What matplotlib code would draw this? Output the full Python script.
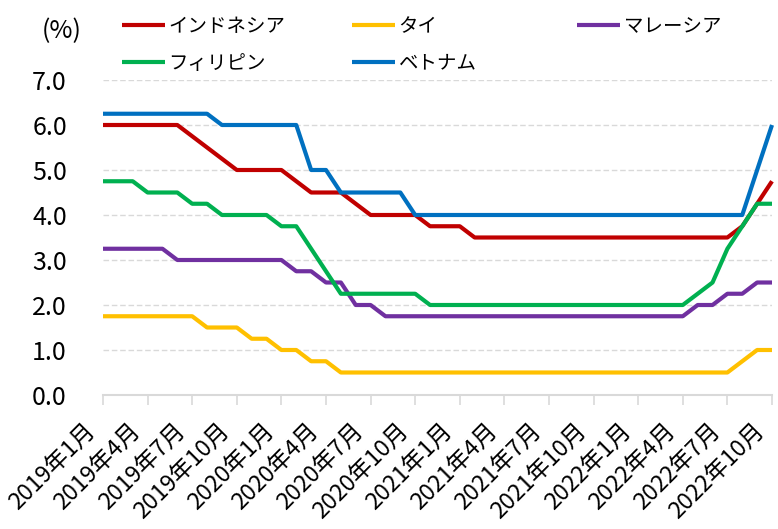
import numpy as np
import matplotlib
matplotlib.use("Agg")
import matplotlib.pyplot as plt
from matplotlib.transforms import ScaledTranslation

plt.rcParams['font.family'] = ['Noto Sans CJK JP', 'DejaVu Sans']

# monthly policy rates, 2019-01 .. 2022-10 (46 months)
months = [f"{y}年{m}月" for y in range(2019, 2023) for m in range(1, 13)][:46]

indonesia = [6.0, 6.0, 6.0, 6.0, 6.0, 6.0, 5.75, 5.5, 5.25, 5.0, 5.0, 5.0,
             5.0, 4.75, 4.5, 4.5, 4.5, 4.25, 4.0, 4.0, 4.0, 4.0, 3.75, 3.75,
             3.75, 3.5, 3.5, 3.5, 3.5, 3.5, 3.5, 3.5, 3.5, 3.5, 3.5, 3.5,
             3.5, 3.5, 3.5, 3.5, 3.5, 3.5, 3.5, 3.75, 4.25, 4.75]
thailand = [1.75, 1.75, 1.75, 1.75, 1.75, 1.75, 1.75, 1.5, 1.5, 1.5, 1.25, 1.25,
            1.0, 1.0, 0.75, 0.75, 0.5, 0.5, 0.5, 0.5, 0.5, 0.5, 0.5, 0.5,
            0.5, 0.5, 0.5, 0.5, 0.5, 0.5, 0.5, 0.5, 0.5, 0.5, 0.5, 0.5,
            0.5, 0.5, 0.5, 0.5, 0.5, 0.5, 0.5, 0.75, 1.0, 1.0]
malaysia = [3.25, 3.25, 3.25, 3.25, 3.25, 3.0, 3.0, 3.0, 3.0, 3.0, 3.0, 3.0,
            3.0, 2.75, 2.75, 2.5, 2.5, 2.0, 2.0, 1.75, 1.75, 1.75, 1.75, 1.75,
            1.75, 1.75, 1.75, 1.75, 1.75, 1.75, 1.75, 1.75, 1.75, 1.75, 1.75, 1.75,
            1.75, 1.75, 1.75, 1.75, 2.0, 2.0, 2.25, 2.25, 2.5, 2.5]
philippines = [4.75, 4.75, 4.75, 4.5, 4.5, 4.5, 4.25, 4.25, 4.0, 4.0, 4.0, 4.0,
               3.75, 3.75, 3.25, 2.75, 2.25, 2.25, 2.25, 2.25, 2.25, 2.25, 2.0, 2.0,
               2.0, 2.0, 2.0, 2.0, 2.0, 2.0, 2.0, 2.0, 2.0, 2.0, 2.0, 2.0,
               2.0, 2.0, 2.0, 2.0, 2.25, 2.5, 3.25, 3.75, 4.25, 4.25]
vietnam = [6.25, 6.25, 6.25, 6.25, 6.25, 6.25, 6.25, 6.25, 6.0, 6.0, 6.0, 6.0,
           6.0, 6.0, 5.0, 5.0, 4.5, 4.5, 4.5, 4.5, 4.5, 4.0, 4.0, 4.0,
           4.0, 4.0, 4.0, 4.0, 4.0, 4.0, 4.0, 4.0, 4.0, 4.0, 4.0, 4.0,
           4.0, 4.0, 4.0, 4.0, 4.0, 4.0, 4.0, 4.0, 5.0, 6.0]

series = [
    ("インドネシア", indonesia, "#C00000"),
    ("タイ", thailand, "#FFC000"),
    ("マレーシア", malaysia, "#7030A0"),
    ("フィリピン", philippines, "#00B050"),
    ("ベトナム", vietnam, "#0070C0"),
]

fig = plt.figure(figsize=(7.78, 5.29), dpi=100)
ax = fig.add_axes([103 / 778, 1 - 395 / 529, 669 / 778, 315 / 529])

x = np.arange(len(months))
handles = {}
for name, vals, col in series:
    ln, = ax.plot(x, vals, color=col, lw=3, solid_joinstyle="round",
                  solid_capstyle="butt", label=name, clip_on=False)
    handles[name] = ln

ax.set_xlim(0, len(months) - 1)
ax.set_ylim(0, 7)
ax.set_yticks(np.arange(0, 8, 1))
ax.set_yticklabels([f"{v:.1f}" for v in range(8)], fontsize=18)
ax.yaxis.grid(True, color="#D9D9D9", ls=(0, (4, 2)), lw=1)
ax.set_axisbelow(True)

for s in ["top", "right", "left"]:
    ax.spines[s].set_visible(False)
ax.spines["bottom"].set_color("#D9D9D9")
ax.spines["bottom"].set_linewidth(1.5)
ax.tick_params(axis="x", length=7, width=1.2, color="#D9D9D9", pad=16)
ax.tick_params(axis="y", length=0, pad=26)

xt = x[::3]
ax.set_xticks(xt)
ax.set_xticklabels([months[i] for i in xt], rotation=45, ha="right",
                   va="center", rotation_mode="anchor", fontsize=16.8)
# nudge the rotated labels left so their top corner sits under the tick
shift = ScaledTranslation(-11 / 100, 0, fig.dpi_scale_trans)
for tick in ax.xaxis.get_major_ticks():
    tick.label1.set_transform(tick.label1.get_transform() + shift)

fig.text(42 / 778, 1 - 31 / 529, "(%)", fontsize=18, va="center", ha="left")

# three legend columns placed like the original
cols = [(["インドネシア", "フィリピン"], 122), (["タイ", "ベトナム"], 352),
        (["マレーシア"], 577)]
for names, px in cols:
    leg = fig.legend([handles[n] for n in names], names, frameon=False,
                     loc="upper left", bbox_to_anchor=(px / 778, 1 - 16 / 529),
                     fontsize=14, handlelength=2.2, handletextpad=0.2,
                     labelspacing=0.8, borderaxespad=0, borderpad=0)

fig.savefig("out.png", dpi=100)
